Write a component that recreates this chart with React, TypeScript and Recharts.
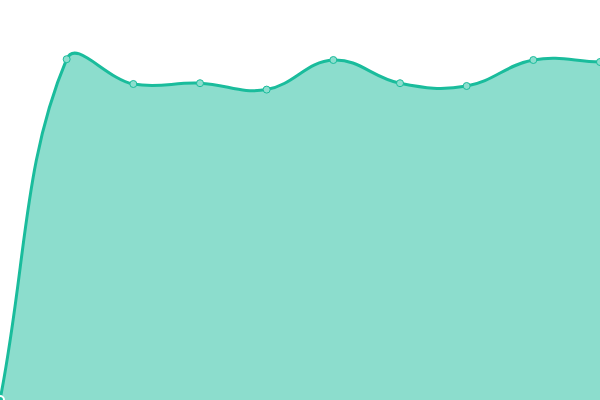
import React from 'react';
import { AreaChart, Area, XAxis, YAxis } from 'recharts';

const categories = ['A', 'B', 'C', 'D', 'E', 'F', 'G', 'H', 'I', 'J'];
const values = [0, 85.2, 79, 79.2, 77.6, 85, 79.2, 78.5, 85, 84.5];

const data = categories.map((name, i) => ({ name, value: values[i] }));

// Tension spline (control points weighted by neighbouring segment lengths)
function tensionCurve(tension: number) {
  return (context: any) => {
    let line: number = NaN;
    let pts: number[][] = [];
    return {
      areaStart() { line = 0; },
      areaEnd() { line = NaN; },
      lineStart() { pts = []; },
      lineEnd() {
        const n = pts.length;
        if (n) {
          if (line) context.lineTo(pts[0][0], pts[0][1]);
          else context.moveTo(pts[0][0], pts[0][1]);
          const prevCp: number[][] = [];
          const nextCp: number[][] = [];
          for (let i = 0; i < n; i++) {
            const cur = pts[i];
            const prev = pts[Math.max(i - 1, 0)];
            const next = pts[Math.min(i + 1, n - 1)];
            const d01 = Math.hypot(cur[0] - prev[0], cur[1] - prev[1]);
            const d12 = Math.hypot(next[0] - cur[0], next[1] - cur[1]);
            let s01 = d01 / (d01 + d12);
            let s12 = d12 / (d01 + d12);
            if (isNaN(s01)) s01 = 0;
            if (isNaN(s12)) s12 = 0;
            const fa = tension * s01;
            const fb = tension * s12;
            prevCp.push([cur[0] - fa * (next[0] - prev[0]), cur[1] - fa * (next[1] - prev[1])]);
            nextCp.push([cur[0] + fb * (next[0] - prev[0]), cur[1] + fb * (next[1] - prev[1])]);
          }
          for (let i = 1; i < n; i++) {
            context.bezierCurveTo(
              nextCp[i - 1][0], nextCp[i - 1][1],
              prevCp[i][0], prevCp[i][1],
              pts[i][0], pts[i][1]
            );
          }
        }
        if (line || (line !== 0 && n === 1)) context.closePath();
        line = 1 - line;
      },
      point(x: number, y: number) { pts.push([+x, +y]); },
    };
  };
}

const curve = tensionCurve(0.4);

export default function App() {
  return (
    <div style={{ position: 'absolute', left: 0, top: 0, width: 600, height: 400 }}>
      <AreaChart width={600} height={400} data={data} margin={{ top: 0, right: 0, bottom: 0, left: 0 }}>
        <XAxis dataKey="name" hide />
        <YAxis hide domain={[0, 100]} />
        <Area
          type={curve as any}
          dataKey="value"
          stroke="#1abc9c"
          strokeWidth={3}
          fill="#1abc9c"
          fillOpacity={0.5}
          dot={{ r: 3.5, fill: '#8ddece', stroke: '#1abc9c', strokeWidth: 1, fillOpacity: 1 }}
          isAnimationActive={false}
        />
      </AreaChart>
    </div>
  );
}
